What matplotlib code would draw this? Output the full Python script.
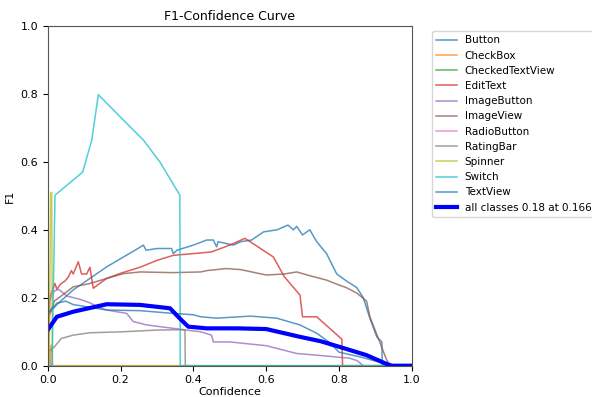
import matplotlib
matplotlib.use("Agg")
import matplotlib.pyplot as plt

# ---- data ----
button_x = [0.0, 0.025, 0.07, 0.12, 0.162, 0.208, 0.24, 0.263, 0.27, 0.3, 0.34, 0.345, 0.355, 0.4, 0.437, 0.455, 0.464, 0.468, 0.51, 0.53, 0.56, 0.593, 0.63, 0.66, 0.675, 0.684, 0.70, 0.72, 0.739, 0.766, 0.794, 0.82, 0.849, 0.867, 0.885, 0.904, 0.918, 0.919, 1.0]
button_y = [0.15, 0.18, 0.223, 0.26, 0.291, 0.32, 0.34, 0.355, 0.34, 0.345, 0.345, 0.33, 0.34, 0.355, 0.37, 0.37, 0.35, 0.365, 0.355, 0.365, 0.37, 0.394, 0.40, 0.414, 0.40, 0.41, 0.385, 0.40, 0.365, 0.33, 0.27, 0.25, 0.23, 0.20, 0.14, 0.085, 0.07, 0.0, 0.0]

checkbox_x = [0.0, 0.005, 0.009, 0.012, 0.013, 1.0]
checkbox_y = [0.0, 0.0, 0.06, 0.06, 0.0, 0.0]

checkedtextview_x = [0.0, 1.0]
checkedtextview_y = [0.0, 0.0]

edittext_x = [0.0, 0.006, 0.02, 0.025, 0.035, 0.048, 0.056, 0.065, 0.07, 0.084, 0.093, 0.107, 0.116, 0.125, 0.162, 0.2, 0.254, 0.3, 0.345, 0.4, 0.45, 0.5, 0.542, 0.62, 0.65, 0.693, 0.70, 0.739, 0.808, 0.81, 1.0]
edittext_y = [0.0, 0.203, 0.242, 0.225, 0.24, 0.25, 0.26, 0.28, 0.27, 0.306, 0.27, 0.27, 0.29, 0.228, 0.257, 0.272, 0.29, 0.31, 0.325, 0.33, 0.335, 0.355, 0.375, 0.32, 0.262, 0.208, 0.144, 0.144, 0.078, 0.0, 0.0]

imagebutton_x = [0.0, 0.018, 0.03, 0.053, 0.09, 0.116, 0.134, 0.162, 0.217, 0.235, 0.272, 0.345, 0.38, 0.42, 0.45, 0.455, 0.5, 0.6, 0.684, 0.75, 0.83, 0.85, 0.867, 1.0]
imagebutton_y = [0.18, 0.22, 0.225, 0.205, 0.195, 0.185, 0.175, 0.164, 0.154, 0.13, 0.12, 0.11, 0.105, 0.10, 0.09, 0.07, 0.07, 0.059, 0.036, 0.03, 0.022, 0.015, 0.0, 0.0]

imageview_x = [0.0, 0.018, 0.07, 0.116, 0.162, 0.208, 0.254, 0.345, 0.42, 0.437, 0.49, 0.53, 0.60, 0.65, 0.684, 0.72, 0.766, 0.794, 0.82, 0.849, 0.876, 0.885, 0.913, 0.93, 0.94, 1.0]
imageview_y = [0.135, 0.19, 0.232, 0.242, 0.257, 0.271, 0.276, 0.274, 0.276, 0.28, 0.286, 0.283, 0.267, 0.27, 0.276, 0.265, 0.252, 0.24, 0.23, 0.214, 0.19, 0.144, 0.067, 0.02, 0.0, 0.0]

radiobutton_x = [0.0, 0.003, 0.006, 0.01, 1.0]
radiobutton_y = [0.07, 0.05, 0.02, 0.0, 0.0]

ratingbar_x = [0.0, 0.018, 0.037, 0.07, 0.116, 0.208, 0.3, 0.377, 0.378, 1.0]
ratingbar_y = [0.04, 0.055, 0.08, 0.09, 0.097, 0.10, 0.105, 0.106, 0.0, 0.0]

spinner_x = [0.0, 0.004, 0.008, 0.011, 0.013, 1.0]
spinner_y = [0.0, 0.0, 0.51, 0.51, 0.0, 0.0]

switch_x = [0.0, 0.012, 0.02, 0.096, 0.121, 0.139, 0.208, 0.263, 0.308, 0.363, 0.364, 1.0]
switch_y = [0.0, 0.0, 0.502, 0.57, 0.664, 0.798, 0.723, 0.664, 0.60, 0.502, 0.0, 0.0]

textview_x = [0.0, 0.025, 0.05, 0.07, 0.162, 0.254, 0.345, 0.4, 0.42, 0.464, 0.557, 0.629, 0.693, 0.74, 0.776, 0.80, 0.858, 0.913, 0.93, 1.0]
textview_y = [0.154, 0.184, 0.19, 0.18, 0.164, 0.162, 0.154, 0.15, 0.144, 0.14, 0.146, 0.14, 0.12, 0.095, 0.067, 0.04, 0.026, 0.01, 0.0, 0.0]

all_x = [0.0, 0.025, 0.07, 0.162, 0.254, 0.336, 0.363, 0.386, 0.437, 0.52, 0.60, 0.693, 0.75, 0.80, 0.876, 0.927, 0.945, 1.0]
all_y = [0.105, 0.144, 0.159, 0.181, 0.179, 0.169, 0.139, 0.115, 0.11, 0.11, 0.108, 0.085, 0.072, 0.056, 0.031, 0.007, 0.0, 0.0]

class_names = ["Button", "CheckBox", "CheckedTextView", "EditText", "ImageButton",
               "ImageView", "RadioButton", "RatingBar", "Spinner", "Switch", "TextView"]
series = [(button_x, button_y), (checkbox_x, checkbox_y), (checkedtextview_x, checkedtextview_y),
          (edittext_x, edittext_y), (imagebutton_x, imagebutton_y), (imageview_x, imageview_y),
          (radiobutton_x, radiobutton_y), (ratingbar_x, ratingbar_y), (spinner_x, spinner_y),
          (switch_x, switch_y), (textview_x, textview_y)]
all_label = "all classes 0.18 at 0.166"

fig = plt.figure(figsize=(5.92, 3.97), dpi=100)
ax = fig.add_axes([0.0806, 0.0788, 0.6149, 0.8557])

for name, (x, y) in zip(class_names, series):
    ax.plot(x, y, linewidth=1.1, alpha=0.75, label=name)
ax.plot(all_x, all_y, linewidth=3, color="blue", label=all_label)

ax.set_xlim(0, 1)
ax.set_ylim(0, 1)
ax.set_xlabel("Confidence", fontsize=8, labelpad=1)
ax.set_ylabel("F1", fontsize=8)
ax.set_title("F1-Confidence Curve", fontsize=9, pad=4)
ax.tick_params(labelsize=8)
for s in ax.spines.values():
    s.set_color("#555555")
ax.legend(bbox_to_anchor=(1.04, 1), loc="upper left", fontsize=7.5)

fig.savefig("out.png", dpi=100)
